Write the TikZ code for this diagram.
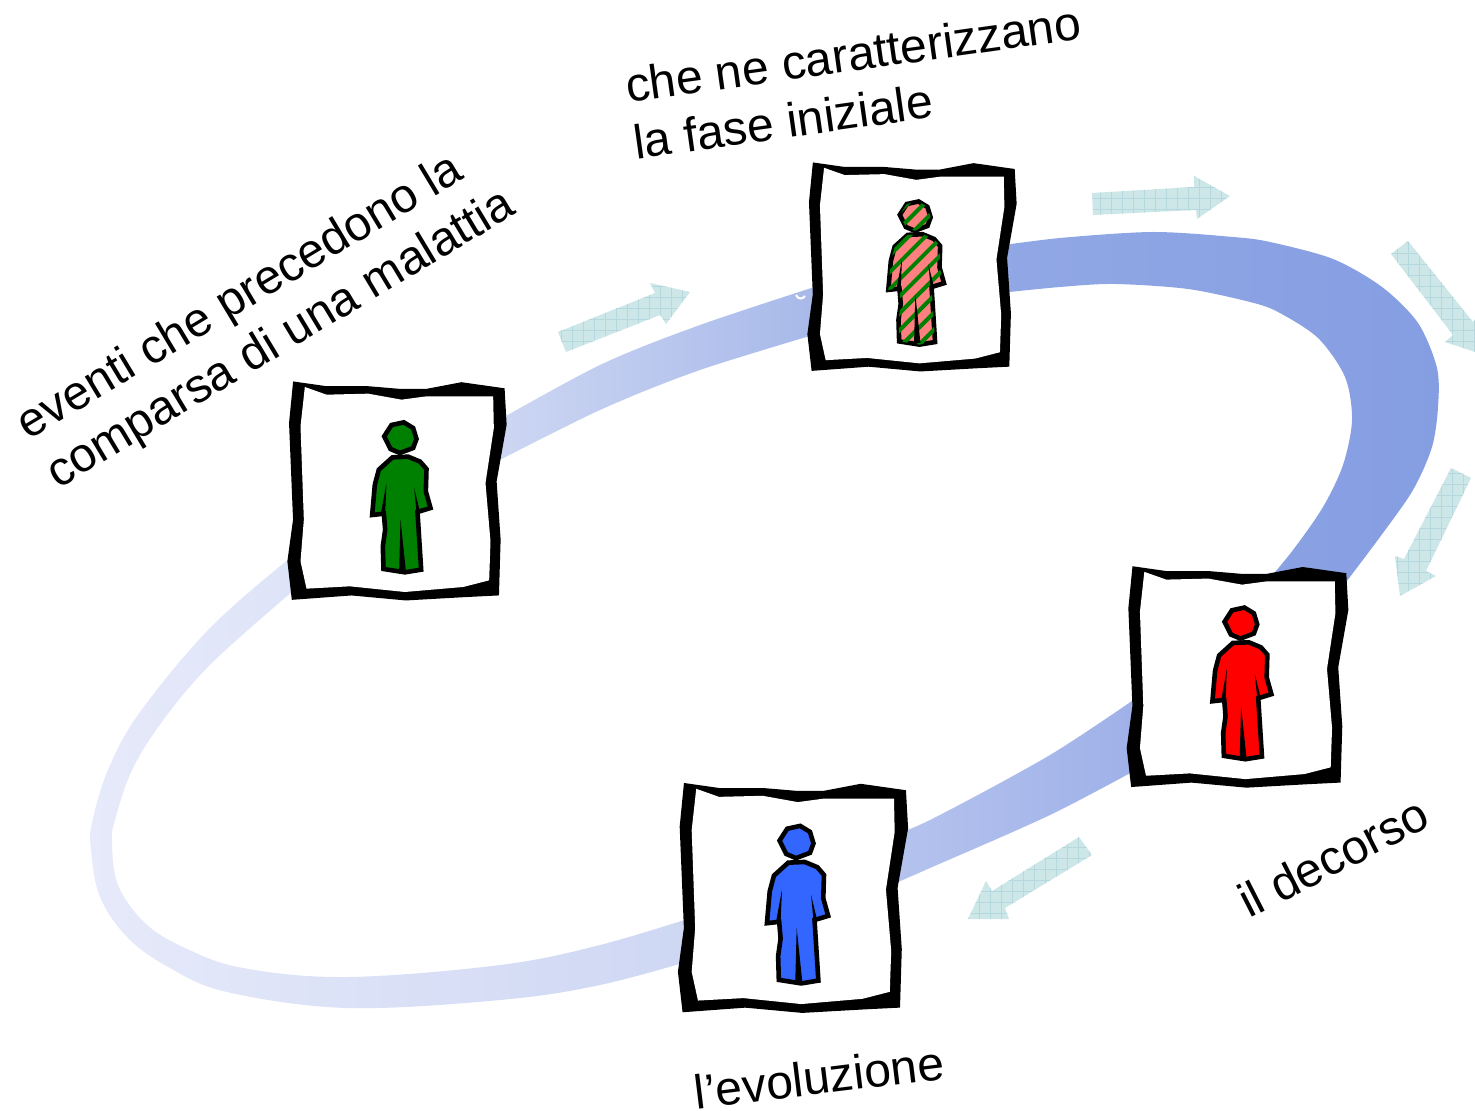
\documentclass[tikz,border=0pt]{standalone}
\usepackage{fontspec}
\setmainfont{Liberation Sans}
\usepackage{xcolor}
\usetikzlibrary{patterns.meta}
\definecolor{arrow-teal}{RGB}{205,230,232}
\definecolor{grid-teal}{RGB}{180,216,221}
\definecolor{patient-blue}{RGB}{51,102,255}
\definecolor{patient-green}{RGB}{0,128,0}
\definecolor{patient-salmon}{RGB}{255,128,128}
\definecolor{band-a}{RGB}{230,234,250}
\definecolor{band-m}{RGB}{223,228,247}
\definecolor{band-b}{RGB}{206,215,243}
\definecolor{band-c}{RGB}{166,184,233}
\definecolor{band-d}{RGB}{146,168,229}
\definecolor{band-e}{RGB}{133,158,226}
\definecolor{band-f}{RGB}{182,196,238}
\definecolor{band-g}{RGB}{158,176,232}
\tikzset{
    move-arrow/.style = {fill=arrow-teal, postaction={pattern={Lines[angle=0, distance=5.5pt, line width=0.3pt]}, pattern color=grid-teal}, postaction={pattern={Lines[angle=90, distance=5.5pt, line width=0.3pt]}, pattern color=grid-teal}},
    caption-text/.style = {align=left, font=\fontsize{24}{28.5}\selectfont, inner sep=0pt},
    striped-fill/.style = {fill=patient-salmon, postaction={pattern={Lines[angle=45, distance=6pt, line width=2pt]}, pattern color=patient-green}},
    pics/patient-card/.style = {code = {
        \begin{scope}[shift={(-351.5,-364)}]
        \filldraw[black, line width=0.8pt] (42,38) -- (140,52) -- (265,52) -- (360,60) -- (440,60) -- (545,40) -- (672,58) -- (678,165) -- (648,335) -- (660,510) -- (655,675) -- (555,680) -- (378,690) -- (215,675) -- (38,688) -- (25,575) -- (42,450) -- (30,160) -- cycle;
        \fill[white] (75,52) -- (140,75) -- (265,72) -- (365,90) -- (440,80) -- (640,80) -- (642,175) -- (617,340) -- (632,515) -- (628,632) -- (550,652) -- (375,667) -- (210,650) -- (80,657) -- (62,575) -- (72,450) -- (62,170) -- cycle;
        \path[draw=black, line width=2.3pt, miter limit=3, #1] (335,166) -- (372,158) -- (400,175) -- (410,208) -- (400,235) -- (360,250) -- (332,238) -- (313,200) -- cycle;
        \path[draw=black, line width=2.3pt, miter limit=3, #1] (338,263) -- (297,300) -- (285,345) -- (277,436) -- (312,432) -- (316,480) -- (309,530) -- (311,598) -- (375,608) -- (424,600) -- (413,427) -- (452,415) -- (438,365) -- (440,298) -- (421,276) -- (385,261) -- cycle;
        \fill[black] (320,340) -- (303,432) -- (316,432) -- cycle;
        \fill[black] (403,355) -- (410,428) -- (420,425) -- cycle;
        \fill[black] (362,450) -- (358,603) -- (378,603) -- cycle;
        \end{scope}
    }},
}
\begin{document}
\begin{tikzpicture}[x=0.5pt, y=-0.5pt]
\path[use as bounding box, clip] (0,0) rectangle (1475,1111);
\shade[left color=band-a, middle color=band-m, right color=band-b] plot[smooth, tension=0.6] coordinates {(700,958) (600,985) (500,1000) (347,1008) (227,992) (170,968) (128,938) (100,897) (91,850) (92,823) (108,770) (140,712) (213,625) (300,550)} -- plot[smooth, tension=0.6] coordinates {(300,585) (215,660) (167,715) (133,768) (115,820) (112,843) (118,885) (145,923) (185,948) (243,968) (347,977) (500,965) (600,945) (700,915)} -- cycle;
\shade[left color=band-b, right color=band-c] plot[smooth, tension=0.5] coordinates {(490,425) (600,365) (700,325) (830,282)} -- plot[smooth, tension=0.5] coordinates {(830,330) (700,370) (600,410) (490,465)} -- cycle;
\shade[left color=band-d, right color=band-e] plot[smooth, tension=0.5] coordinates {(990,247) (1060,238) (1153,232) (1233,237) (1270,242) (1333,259) (1382,287) (1418,323) (1437,368) (1438,407) (1432,447) (1413,490) (1380,537) (1340,590)} -- plot[smooth, tension=0.5] coordinates {(1260,590) (1293,550) (1323,507) (1343,465) (1352,420) (1345,377) (1318,338) (1278,312) (1250,302) (1188,289) (1115,284) (1060,287) (990,294)} -- cycle;
\shade[left color=band-f, right color=band-g] plot[smooth, tension=0.5] coordinates {(880,840) (930,820) (1050,755) (1145,692)} -- plot[smooth, tension=0.5] coordinates {(1145,765) (1050,815) (930,868) (880,890)} -- cycle;
\draw[white, line width=1pt] (796,295) .. controls (798,300) and (803,299) .. (805,296);
\fill[move-arrow] (558,332) -- (566,352) -- (660,315) -- (666,324) -- (690,292) -- (650,283) -- (655,293) -- cycle;
\fill[move-arrow] (1092,193) -- (1194,187) -- (1194,176) -- (1230,196) -- (1197,219) -- (1196,210) -- (1093,215) -- cycle;
\fill[move-arrow] (1408,241) -- (1473,322) -- (1479,315) -- (1484,355) -- (1445,342) -- (1453,335) -- (1391,254) -- cycle;
\fill[move-arrow] (1451,468) -- (1471,478) -- (1426,571) -- (1436,576) -- (1400,596) -- (1395,556) -- (1404,559) -- cycle;
\fill[move-arrow] (1079,837) -- (1092,855) -- (1005,908) -- (1009,919) -- (968,919) -- (986,881) -- (992,891) -- cycle;
\pic[scale=0.3333] (card-before) at (397,491) {patient-card={fill=patient-green}};
\pic[scale=0.3180] (card-onset) at (912,267) {patient-card={striped-fill}};
\pic[scale=0.3370] (card-course) at (1237.5,677) {patient-card={fill=red}};
\pic[scale=0.3500] (card-outcome) at (793,898) {patient-card={fill=patient-blue}};
\node[caption-text, rotate=31] (before-text) at (267,316) {eventi che precedono la\\comparsa di una malattia};
\node[caption-text, rotate=8] (onset-text) at (857,82) {che ne caratterizzano\\la fase iniziale};
\node[caption-text, rotate=27] (course-text) at (1333,857) {il decorso};
\node[caption-text, rotate=7] (outcome-text) at (819,1077) {l’evoluzione};
\end{tikzpicture}
\end{document}
